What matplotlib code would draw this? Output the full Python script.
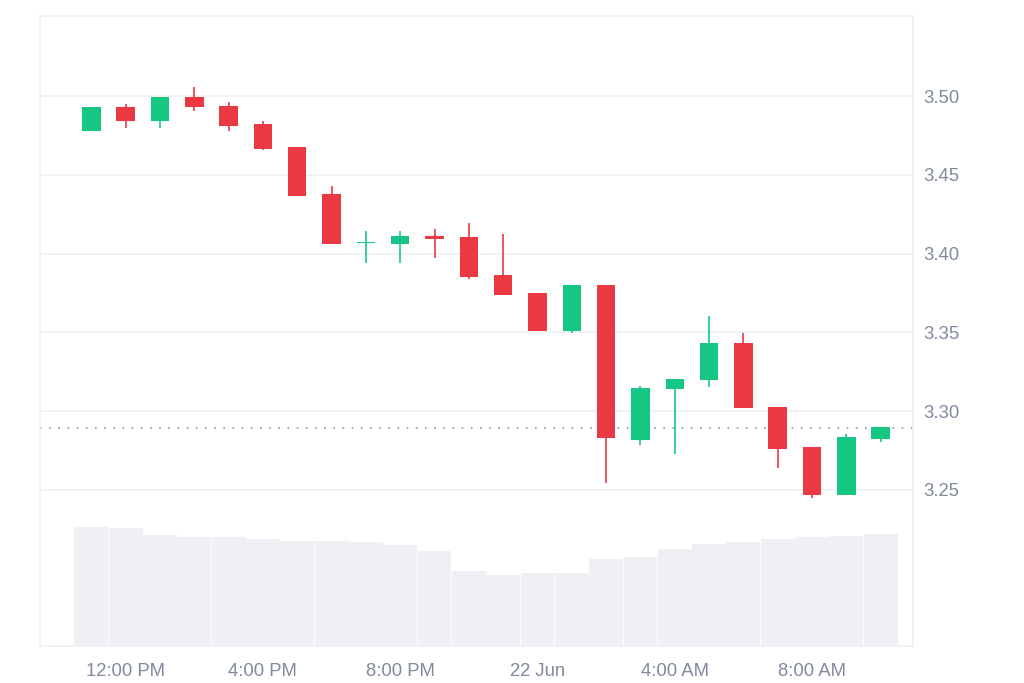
import matplotlib
matplotlib.use("Agg")
import matplotlib.pyplot as plt
import numpy as np

# hourly candles, 21 Jun 11:00 -> 22 Jun 10:00 (hours counted from 21 Jun 00:00)
hours = [11, 12, 13, 14, 15, 16, 17, 18, 19, 20, 21, 22,
         23, 24, 25, 26, 27, 28, 29, 30, 31, 32, 33, 34]
opens = [3.4776, 3.4928, 3.4841, 3.4992, 3.4937, 3.4820, 3.4678, 3.4376,
         3.4066, 3.4063, 3.4114, 3.4103, 3.3864, 3.3748, 3.3509, 3.3801,
         3.2817, 3.3141, 3.3196, 3.3431, 3.3029, 3.2771, 3.2468, 3.2826]
highs = [3.4928, 3.4949, 3.4992, 3.5057, 3.4960, 3.4841, 3.4678, 3.4429,
         3.4145, 3.4145, 3.4156, 3.4192, 3.4124, 3.3748, 3.3801, 3.3801,
         3.3160, 3.3204, 3.3606, 3.3496, 3.3029, 3.2771, 3.2855, 3.2900]
lows = [3.4776, 3.4799, 3.4799, 3.4907, 3.4776, 3.4657, 3.4366, 3.4063,
        3.3942, 3.3942, 3.3974, 3.3837, 3.3735, 3.3509, 3.3498, 3.2543,
        3.2784, 3.2728, 3.3152, 3.3022, 3.2642, 3.2447, 3.2468, 3.2805]
closes = [3.4928, 3.4841, 3.4992, 3.4928, 3.4810, 3.4666, 3.4366, 3.4063,
          3.4070, 3.4114, 3.4095, 3.3853, 3.3735, 3.3509, 3.3801, 3.2828,
          3.3149, 3.3204, 3.3431, 3.3022, 3.2762, 3.2468, 3.2834, 3.2900]
volumes = [118, 117, 110, 108, 108, 106, 104, 104, 103, 100, 94, 74,
           70, 72, 72, 86, 88, 96, 101, 103, 106, 108, 109, 111]
last_price = 3.2896

price_ticks = [3.25, 3.30, 3.35, 3.40, 3.45, 3.50]
time_ticks = [12, 16, 20, 24, 28, 32]
time_labels = ['12:00 PM', '4:00 PM', '8:00 PM', '22 Jun', '4:00 AM', '8:00 AM']

UP = '#16C784'
DOWN = '#EA3943'
GRID = '#EFF0F5'
TXT = '#808A9D'

plt.rcParams['font.family'] = ['Liberation Sans', 'DejaVu Sans']

fig = plt.figure(figsize=(10.24, 6.83), dpi=100)
ax = fig.add_axes([40/1024, 37/683, 873/1024, 630/683])
axv = ax.twinx()

# volume bars at the bottom
axv.bar(hours, volumes, width=0.93, color='#EFF0F4', edgecolor='#EFF0F4',
        linewidth=1.5, joinstyle='round')
axv.set_ylim(0, 630)
axv.set_yticks([])
for s in axv.spines.values():
    s.set_visible(False)

ax.set_zorder(axv.get_zorder() + 1)
ax.patch.set_visible(False)

# candles
for h, o, hi, lo, c in zip(hours, opens, highs, lows, closes):
    col = UP if c >= o else DOWN
    ax.vlines(h, lo, hi, color=col, lw=1.2, zorder=3)
    bottom = min(o, c)
    height = max(abs(c - o), 0.0008)
    ax.bar(h, height, bottom=bottom, width=0.54, color=col, zorder=4)

ax.axhline(last_price, color='#8C94A6', lw=1.2, ls=(0, (1, 4.5)), zorder=2)

ax.set_xlim(9.506, 34.94)
ax.set_ylim(3.151, 3.5508)
ax.set_yticks(price_ticks)
ax.set_yticklabels(['%.2f' % t for t in price_ticks])
ax.yaxis.tick_right()
ax.set_xticks(time_ticks)
ax.set_xticklabels(time_labels)
ax.tick_params(length=0, labelsize=13.3, labelcolor=TXT)
ax.tick_params(axis='y', pad=7.5)
ax.tick_params(axis='x', pad=12)
ax.grid(axis='y', color=GRID, lw=1.2, zorder=0)
for s in ax.spines.values():
    s.set_color(GRID)
    s.set_linewidth(1.2)

fig.savefig('out.png', dpi=100, facecolor='white')
